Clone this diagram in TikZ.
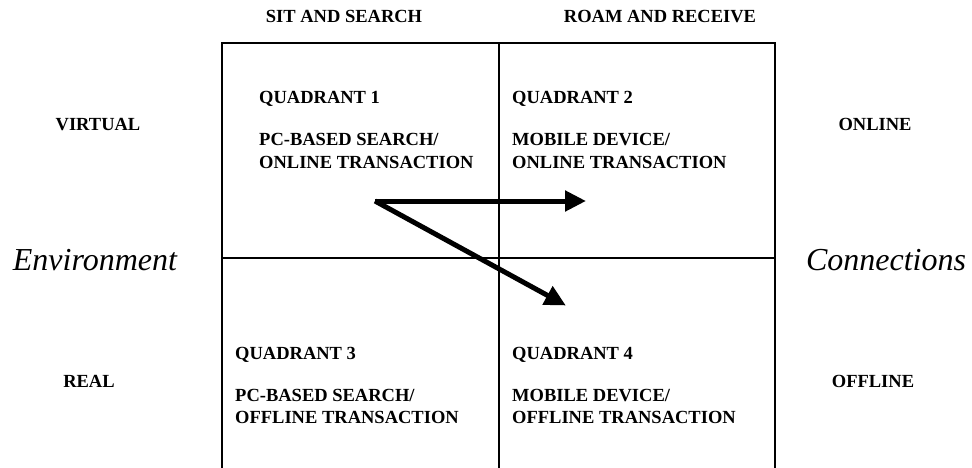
\documentclass[tikz,border=0pt]{standalone}
\usepackage{fontspec}
\setmainfont{Liberation Serif}
\usetikzlibrary{arrows.meta}
\begin{document}
\begin{tikzpicture}[x=1pt,y=-1pt,
  grid/.style={line width=1.8pt},
  lbl/.style={font=\fontsize{18.5}{21}\selectfont\bfseries, inner sep=0pt},
  qtxt/.style={lbl, anchor=base west},
  side/.style={lbl, anchor=base},
  big/.style={font=\fontsize{32}{36}\selectfont\itshape, inner sep=0pt, anchor=base},
  bigarrow/.style={line width=5pt, -{Triangle[length=21pt,width=20pt]}, shorten >=-1pt}]
\useasboundingbox (0,0) rectangle (972,468);
% grid
\coordinate (tl) at (222,43);
\coordinate (tm) at (499,43);
\coordinate (tr) at (775,43);
\coordinate (bl) at (222,468);
\coordinate (bm) at (499,468);
\coordinate (br) at (775,468);
\coordinate (ml) at (222,258);
\coordinate (mr) at (775,258);
\draw[grid] (bl) -- (tl) -- (tr) -- (br);
\draw[grid] (tm) -- (bm);
\draw[grid] (ml) -- (mr);
% headers
\node[side] (h1) at (344,23) {SIT AND SEARCH};
\node[side] (h2) at (660,23) {ROAM AND RECEIVE};
% side labels
\node[side] (virt) at (98,131) {VIRTUAL};
\node[side] (real) at (89,387) {REAL};
\node[side] (onl) at (875,131) {ONLINE};
\node[side] (offl) at (873,387) {OFFLINE};
\node[big] (env) at (95,270) {Environment};
\node[big] (conn) at (886,270) {Connections};
% quadrant 1
\node[qtxt] (q1a) at (259,104) {QUADRANT 1};
\node[qtxt] (q1b) at (259,146) {PC-BASED SEARCH/};
\node[qtxt] (q1c) at (259,168) {ONLINE TRANSACTION};
% quadrant 2
\node[qtxt] (q2a) at (512,104) {QUADRANT 2};
\node[qtxt] (q2b) at (512,146) {MOBILE DEVICE/};
\node[qtxt] (q2c) at (512,168) {ONLINE TRANSACTION};
% quadrant 3
\node[qtxt] (q3a) at (235,359) {QUADRANT 3};
\node[qtxt] (q3b) at (235,401) {PC-BASED SEARCH/};
\node[qtxt] (q3c) at (235,423) {OFFLINE TRANSACTION};
% quadrant 4
\node[qtxt] (q4a) at (512,359) {QUADRANT 4};
\node[qtxt] (q4b) at (512,401) {MOBILE DEVICE/};
\node[qtxt] (q4c) at (512,423) {OFFLINE TRANSACTION};
% arrows
\coordinate (start) at (375,201);
\coordinate (endA) at (585,201);
\coordinate (endB) at (565,305);
\draw[bigarrow] (start) -- (endA);
\draw[bigarrow] (start) -- (endB);
\end{tikzpicture}
\end{document}
